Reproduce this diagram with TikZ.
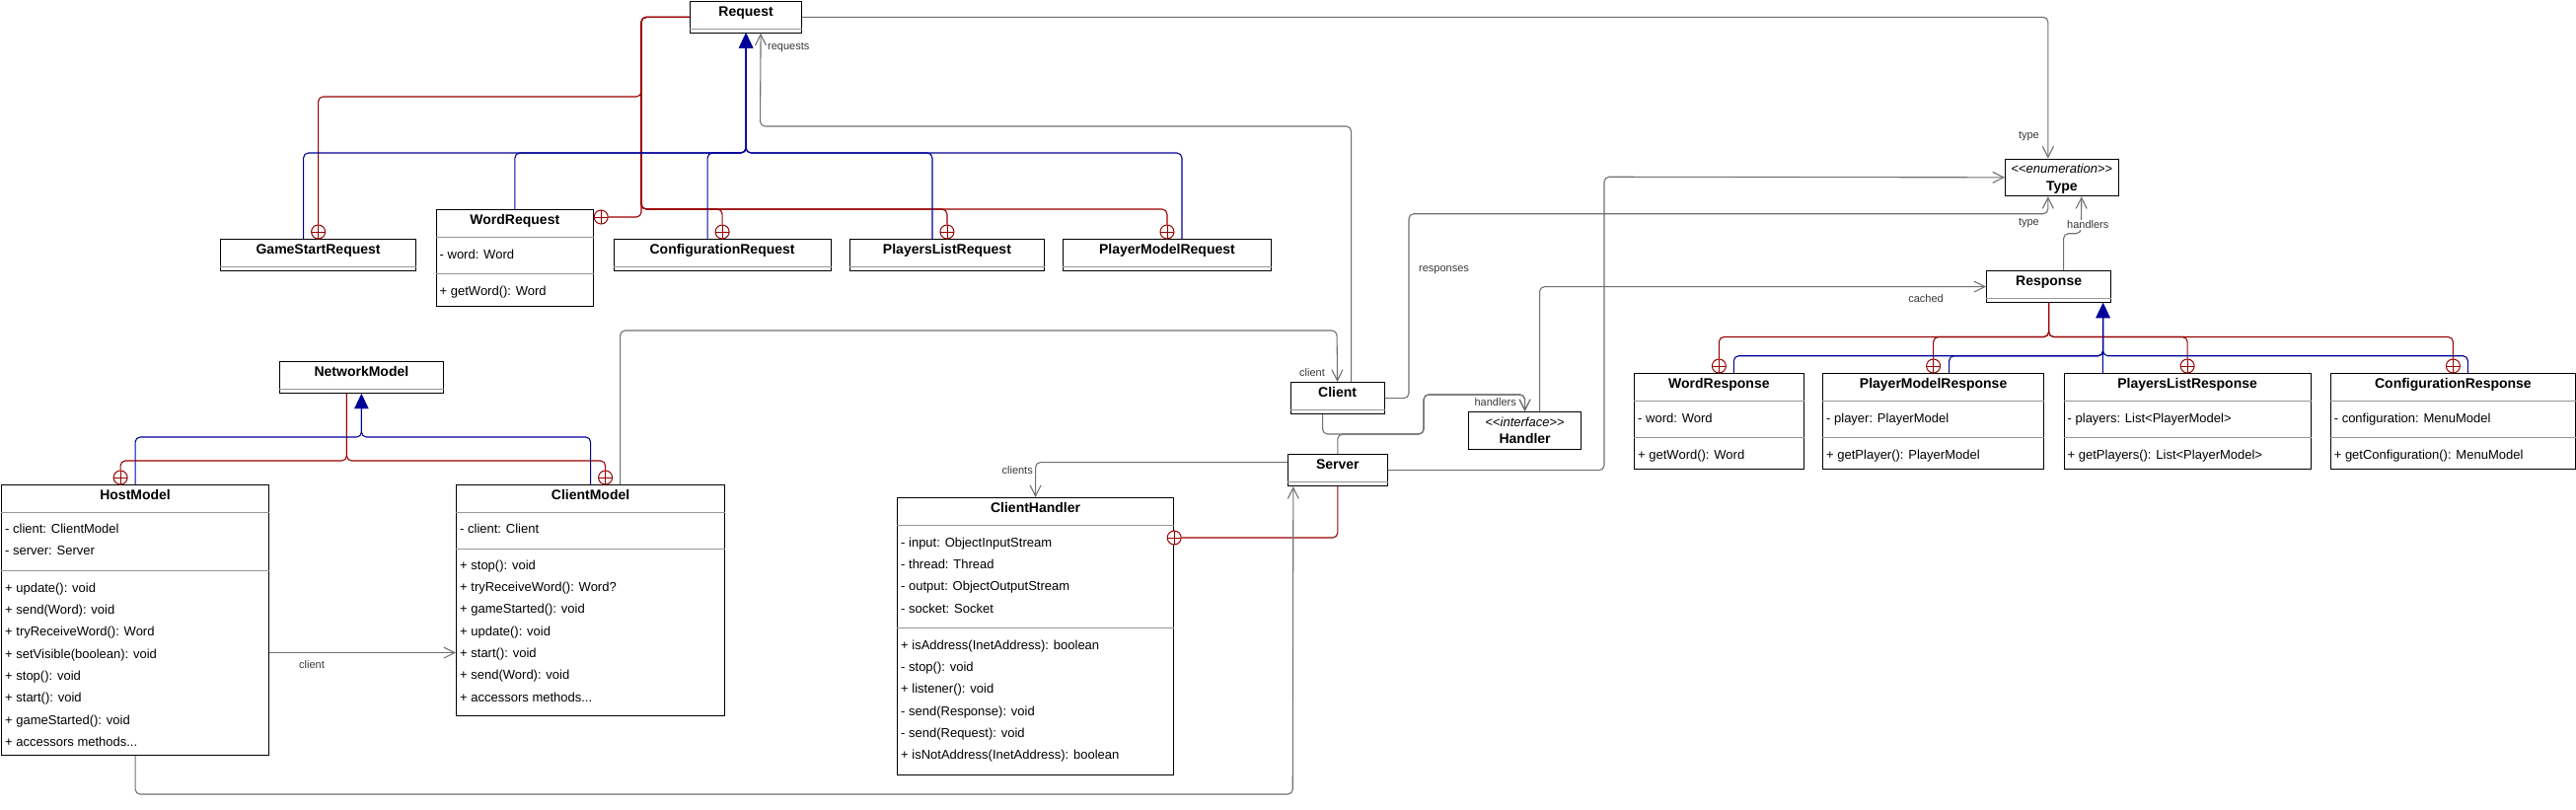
\documentclass[tikz,border=0pt]{standalone}
\usepackage{fontspec}
\setmainfont{Liberation Sans}
\usetikzlibrary{arrows.meta}

\definecolor{nestred}{RGB}{153,0,0}
\definecolor{genblue}{RGB}{0,0,153}
\definecolor{assocgray}{RGB}{112,112,112}
\definecolor{sepgray}{RGB}{150,150,150}
\definecolor{labelgray}{RGB}{55,55,55}

\tikzset{
  classnode/.style={draw=black, line width=1.2pt, fill=white, anchor=north west, inner sep=0pt},
  classtitle/.style={font=\fontsize{14}{16}\selectfont\bfseries, inner sep=0pt, text height=10pt, text depth=3pt},
  stereo/.style={font=\fontsize{13}{15}\selectfont, inner sep=0pt, text height=9.4pt, text depth=2.7pt},
  member/.style={font=\fontsize{13}{15}\selectfont, anchor=west, inner sep=0pt, text height=9.4pt, text depth=2.7pt},
  sepline/.style={draw=sepgray, line width=1pt},
  genline/.style={draw=genblue, line width=1.1pt, rounded corners=5pt, -{Triangle[length=15pt, width=14pt]}},
  nestline/.style={draw=nestred, line width=1.1pt, rounded corners=5pt},
  nestmark/.style={circle, draw=nestred, line width=1pt, fill=white, minimum size=14pt, inner sep=0pt,
    path picture={\draw[nestred, line width=0.9pt] (path picture bounding box.north) -- (path picture bounding box.south)
      (path picture bounding box.west) -- (path picture bounding box.east);}},
  assoc/.style={draw=assocgray, line width=1.1pt, rounded corners=5pt, -{Straight Barb[length=11pt, width=11pt]}},
  rolelabel/.style={font=\fontsize{11}{13}\selectfont, text=labelgray, inner sep=1pt},
}

% Klassenkasten: Name, x, y, Breite, Hoehe, Titel
\newcommand{\umlclass}[6]{%
  \node[classnode, minimum width=#4pt, minimum height=#5pt] (#1) at (#2,#3) {};
  \node[classtitle] (#1-title) at ([yshift=-12pt]#1.north) {#6};
  \draw[sepline] ([yshift=-28pt]#1.north west) -- ([yshift=-28pt]#1.north east);
}
\newcommand{\umlsep}[2]{%
  \draw[sepline] ([yshift=-#2pt]#1.north west) -- ([yshift=-#2pt]#1.north east);
}
\newcommand{\umlmembers}[4]{%
  \foreach \txt [count=\i] in {#4}
    \node[member] (#1-#2\i) at ([xshift=4pt, yshift={-(#3+22.3*(\i-1))*1pt}]#1.north west) {\txt};
}
\newcommand{\tridots}{...}

\begin{document}
\begin{tikzpicture}[x=1pt, y=-1pt]
    \useasboundingbox (0,0) rectangle (2611,820);

    % Request-Hierarchie
    \umlclass{Request}{699}{1}{113}{31.5}{Request}
    \umlclass{GameStartRequest}{223}{242}{198}{32}{GameStartRequest}
    \umlclass{WordRequest}{441.5}{212}{159.5}{97.5}{WordRequest}
    \umlsep{WordRequest}{65}
    \umlmembers{WordRequest}{a}{47}{- word: Word}
    \umlmembers{WordRequest}{m}{84}{+ getWord(): Word}
    \umlclass{ConfigurationRequest}{621.5}{242}{220}{32}{ConfigurationRequest}
    \umlclass{PlayersListRequest}{861}{242}{196.7}{32}{PlayersListRequest}
    \umlclass{PlayerModelRequest}{1077}{242}{210.7}{32}{PlayerModelRequest}

    % Modelle
    \umlclass{NetworkModel}{282.6}{366}{166.4}{32}{NetworkModel}
    \umlclass{HostModel}{1}{491}{271}{274}{HostModel}
    \umlsep{HostModel}{87}
    \umlmembers{HostModel}{a}{46}{- client: ClientModel, - server: Server}
    \umlmembers{HostModel}{m}{106}{+ update(): void, + send(Word): void, + tryReceiveWord(): Word,
      + setVisible(boolean): void, + stop(): void, + start(): void, + gameStarted(): void, + accessors methods\tridots}
    \umlclass{ClientModel}{462}{491}{272}{234}{ClientModel}
    \umlsep{ClientModel}{65}
    \umlmembers{ClientModel}{a}{46}{- client: Client}
    \umlmembers{ClientModel}{m}{83}{+ stop(): void, + tryReceiveWord(): Word?, + gameStarted(): void,
      + update(): void, + start(): void, + send(Word): void, + accessors methods\tridots}

    % Netzwerk
    \umlclass{ClientHandler}{909}{504}{280}{281}{ClientHandler}
    \umlsep{ClientHandler}{132}
    \umlmembers{ClientHandler}{a}{47}{- input: ObjectInputStream, - thread: Thread,
      - output: ObjectOutputStream, - socket: Socket}
    \umlmembers{ClientHandler}{m}{151}{+ isAddress(InetAddress): boolean, - stop(): void, + listener(): void,
      - send(Response): void, - send(Request): void, + isNotAddress(InetAddress): boolean}
    \umlclass{Client}{1307.5}{387}{95}{32}{Client}
    \umlclass{Server}{1305}{460}{100.5}{32}{Server}
    \node[classnode, minimum width=114pt, minimum height=38pt] (Handler) at (1488,417) {};
    \node[stereo] (Handler-stereo) at ([yshift=-12pt]Handler.north) {<\kern0pt<\textit{interface}>\kern0pt>};
    \node[classtitle] (Handler-title) at ([yshift=-29pt]Handler.north) {Handler};
    \node[classnode, minimum width=114.5pt, minimum height=37.5pt] (Type) at (2032,160.5) {};
    \node[stereo] (Type-stereo) at ([yshift=-12pt]Type.north) {<\kern0pt<\textit{enumeration}>\kern0pt>};
    \node[classtitle] (Type-title) at ([yshift=-29pt]Type.north) {Type};

    % Response-Hierarchie
    \umlclass{Response}{2013}{274}{126}{32}{Response}
    \umlclass{WordResponse}{1656}{378}{171.5}{97}{WordResponse}
    \umlsep{WordResponse}{65.7}
    \umlmembers{WordResponse}{a}{47}{- word: Word}
    \umlmembers{WordResponse}{m}{84}{+ getWord(): Word}
    \umlclass{PlayerModelResponse}{1847}{378}{224}{97}{PlayerModelResponse}
    \umlsep{PlayerModelResponse}{65.7}
    \umlmembers{PlayerModelResponse}{a}{47}{- player: PlayerModel}
    \umlmembers{PlayerModelResponse}{m}{84}{+ getPlayer(): PlayerModel}
    \umlclass{PlayersListResponse}{2091.5}{378}{250}{97}{PlayersListResponse}
    \umlsep{PlayersListResponse}{65.7}
    \umlmembers{PlayersListResponse}{a}{47}{- players: List<PlayerModel>}
    \umlmembers{PlayersListResponse}{m}{84}{+ getPlayers(): List<PlayerModel>}
    \umlclass{ConfigurationResponse}{2361.6}{378}{248.4}{97}{ConfigurationResponse}
    \umlsep{ConfigurationResponse}{65.7}
    \umlmembers{ConfigurationResponse}{a}{47}{- configuration: MenuModel}
    \umlmembers{ConfigurationResponse}{m}{84}{+ getConfiguration(): MenuModel}

    % Verschachtelung (innere Klassen)
    \node[nestmark] (nGameStart) at ([yshift=7pt]GameStartRequest.north) {};
    \node[nestmark] (nWordReq) at ([xshift=7pt, yshift=-8pt]WordRequest.north east) {};
    \node[nestmark] (nConfigReq) at ([yshift=7pt]ConfigurationRequest.north) {};
    \node[nestmark] (nPlayersReq) at ([yshift=7pt]PlayersListRequest.north) {};
    \node[nestmark] (nPlayerReq) at ([yshift=7pt]PlayerModelRequest.north) {};
    \node[nestmark] (nHost) at ([xshift=-15pt, yshift=7pt]HostModel.north) {};
    \node[nestmark] (nClientModel) at ([xshift=15pt, yshift=7pt]ClientModel.north) {};
    \node[nestmark] (nHandler) at ([yshift=-41pt]ClientHandler.north east) {};
    \node[nestmark] (nWordRes) at ([yshift=7pt]WordResponse.north) {};
    \node[nestmark] (nPlayerRes) at ([yshift=7pt]PlayerModelResponse.north) {};
    \node[nestmark] (nPlayersRes) at ([yshift=7pt]PlayersListResponse.north) {};
    \node[nestmark] (nConfigRes) at ([yshift=7pt]ConfigurationResponse.north) {};

    \coordinate (netnest) at (0,467);
    \coordinate (resnest) at (0,341.5);
    \draw[nestline] (Request.west) -| (650,98) -| (nGameStart.north);
    \draw[nestline] (Request.west) -| (650,220) -- (nWordReq.east);
    \draw[nestline] (Request.west) -| (650,212) -| (nConfigReq.north);
    \draw[nestline] (Request.west) -| (650,212) -| (nPlayersReq.north);
    \draw[nestline] (Request.west) -| (650,212) -| (nPlayerReq.north);
    \draw[nestline] ([xshift=-15pt]NetworkModel.south) |- (netnest -| nHost) -- (nHost.north);
    \draw[nestline] ([xshift=-15pt]NetworkModel.south) |- (netnest -| nClientModel) -- (nClientModel.north);
    \draw[nestline] (Server.south) |- (nHandler.east);
    \foreach \n in {nWordRes, nPlayerRes, nPlayersRes, nConfigRes}
      \draw[nestline] (Response.south) |- (resnest -| \n) -- (\n.north);

    % Vererbung
    \coordinate (reqgen) at (0,155);
    \coordinate (netgen) at (0,443);
    \coordinate (resgen) at (0,360.7);
    \coordinate (resarrow) at ([xshift=55pt]Response.south);
    \draw[genline] ([xshift=-15pt]GameStartRequest.north) |- (reqgen -| Request.south) -- (Request.south);
    \draw[genline] (WordRequest.north) |- (reqgen -| Request.south) -- (Request.south);
    \draw[genline] ([xshift=-15pt]ConfigurationRequest.north) |- (reqgen -| Request.south) -- (Request.south);
    \draw[genline] ([xshift=-15pt]PlayersListRequest.north) |- (reqgen -| Request.south) -- (Request.south);
    \draw[genline] ([xshift=15pt]PlayerModelRequest.north) |- (reqgen -| Request.south) -- (Request.south);
    \draw[genline] (HostModel.north) |- (netgen -| NetworkModel.south) -- (NetworkModel.south);
    \draw[genline] (ClientModel.north) |- (netgen -| NetworkModel.south) -- (NetworkModel.south);
    \draw[genline] ([xshift=15pt]WordResponse.north) |- (resgen -| resarrow) -- (resarrow);
    \draw[genline] ([xshift=16pt]PlayerModelResponse.north) |- (resgen -| resarrow) -- (resarrow);
    \draw[genline] ([xshift=-85.75pt]PlayersListResponse.north) -- (resarrow);
    \draw[genline] ([xshift=15pt]ConfigurationResponse.north) |- (resgen -| resarrow) -- (resarrow);

    % Assoziationen
    \draw[assoc] ([xshift=14pt]Client.north) |- (770.5,128) -- ([xshift=15pt]Request.south);
    \draw[assoc] (Request.east) -| ([xshift=-14pt]Type.north);
    \draw[assoc] (Client.east) -| (1428,216.7) -| ([xshift=-14pt]Type.south);
    \draw[assoc] (Server.east) -| (1626,179.25) -- (Type.west);
    \draw[assoc] ([xshift=15pt]Response.north) |- (2109.25,236.7) -- ([xshift=20pt]Type.south);
    \draw[assoc] ([xshift=15pt]Handler.north) |- (Response.west);
    \draw[assoc] ([xshift=-15pt]Client.south) |- (1443,440) -- (1443,400) -| (Handler.north);
    \draw[assoc] (Server.north) |- (1443,440) -- (1443,400) -| (Handler.north);
    \draw[assoc] ([xshift=30pt]ClientModel.north) |- (1355,335) -- (Client.north);
    \draw[assoc] ([yshift=8pt]Server.west) -| (ClientHandler.north);
    \draw[assoc] (HostModel.south) |- (1310.25,805) -- ([xshift=-45pt]Server.south);
    \draw[assoc] ([yshift=-33pt]HostModel.east) -- ([yshift=-53pt]ClientModel.west);

    % Rollennamen
    \node[rolelabel, anchor=west] (lbl-requests) at (777,48) {requests};
    \node[rolelabel, anchor=east] (lbl-type1) at (2068,138) {type};
    \node[rolelabel, anchor=west] (lbl-responses) at (1437,274) {responses};
    \node[rolelabel, anchor=east] (lbl-type2) at (2068,226) {type};
    \node[rolelabel, anchor=west, fill=white] (lbl-handlers1) at (2094,228) {handlers};
    \node[rolelabel] (lbl-cached) at (1952,303) {cached};
    \node[rolelabel, anchor=east] (lbl-handlers2) at (1538,408) {handlers};
    \node[rolelabel, anchor=east] (lbl-client1) at (1344,378) {client};
    \node[rolelabel, anchor=east] (lbl-clients) at (1048,477) {clients};
    \node[rolelabel] (lbl-client2) at (316,674) {client};
\end{tikzpicture}
\end{document}
